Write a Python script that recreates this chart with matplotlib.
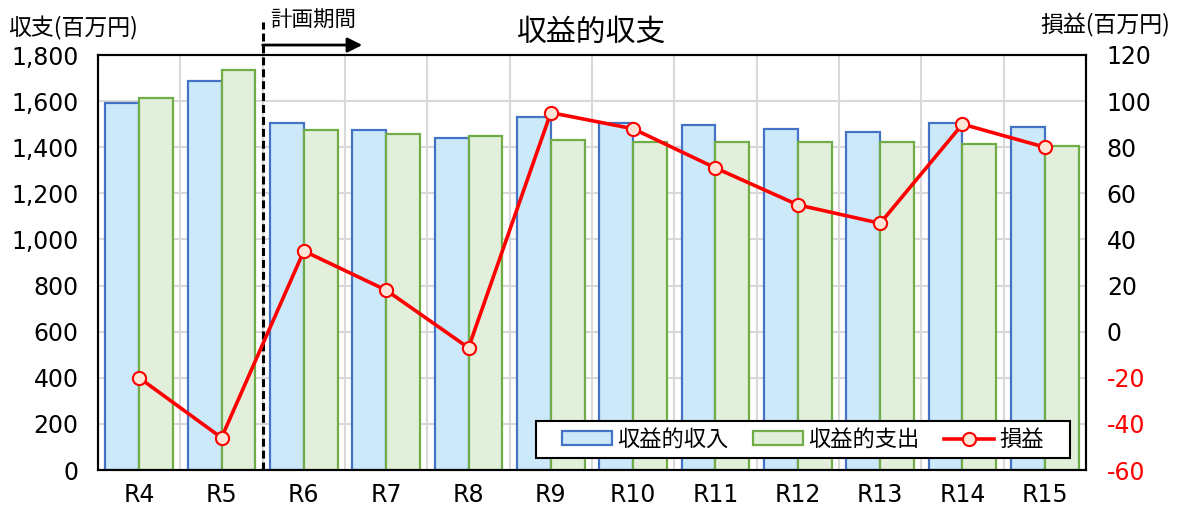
import matplotlib
matplotlib.use("Agg")
import matplotlib.pyplot as plt
import numpy as np
from matplotlib.patches import Rectangle, Patch
from matplotlib.lines import Line2D
import matplotlib.transforms as mtransforms

plt.rcParams['font.family'] = ['DejaVu Sans', 'Noto Sans CJK JP']

# Data (百万円)
years = ["R4", "R5", "R6", "R7", "R8", "R9", "R10", "R11", "R12", "R13", "R14", "R15"]
income = [1590, 1687, 1506, 1473, 1438, 1530, 1506, 1497, 1479, 1464, 1505, 1487]
expense = [1612, 1736, 1473, 1456, 1447, 1430, 1422, 1422, 1422, 1422, 1414, 1405]
profit = [-20, -46, 35, 18, -7, 95, 88, 71, 55, 47, 90, 80]

left_ticks = list(range(0, 1801, 200))
right_ticks = list(range(-60, 121, 20))

W, H = 1178, 508
fig = plt.figure(figsize=(W / 100, H / 100), dpi=100)
ax = fig.add_axes([98 / W, 38 / H, 988 / W, 415 / H])
ax2 = ax.twinx()

x = np.arange(len(years))
bw = 0.41
ax.bar(x - bw / 2, income, width=bw, color="#CCE9FA", edgecolor="#4472C4",
       linewidth=1.6, zorder=2)
ax.bar(x + bw / 2, expense, width=bw, color="#E2EFDA", edgecolor="#70AD47",
       linewidth=1.6, zorder=2.1)

ax.set_xlim(-0.5, len(years) - 0.5)
ax.set_ylim(0, 1800)
ax.set_yticks(left_ticks)
ax.set_yticklabels([f"{v:,}" for v in left_ticks])
ax.set_xticks(x)
ax.set_xticklabels(years)
ax.tick_params(axis='both', length=0, labelsize=17)
ax.tick_params(axis='y', pad=14)
ax.tick_params(axis='x', pad=9)

# grid: horizontal at value ticks, vertical at category boundaries
for v in left_ticks[1:-1]:
    ax.axhline(v, color="#D9D9D9", lw=1.5, zorder=0)
for b in np.arange(0.5, len(years) - 0.5, 1.0):
    ax.axvline(b, color="#D9D9D9", lw=1.5, zorder=0)

for s in ax.spines.values():
    s.set_linewidth(1.5)
    s.set_color("black")
for s in ax2.spines.values():
    s.set_linewidth(1.5)
    s.set_color("black")

# profit line on the secondary axis
ax2.plot(x, profit, color="#FF0000", lw=2.6, marker="o", markersize=9.5,
         markerfacecolor="#FCE4D6", markeredgecolor="#FF0000",
         markeredgewidth=1.5, zorder=3)
ax2.set_ylim(-60, 120)
ax2.set_yticks(right_ticks)
ax2.set_yticklabels([str(v) for v in right_ticks])
ax2.tick_params(axis='y', length=0, labelsize=17, pad=15)
for lbl, v in zip(ax2.get_yticklabels(), right_ticks):
    lbl.set_color("#FF0000" if v < 0 else "black")

# 計画期間 marker: dashed boundary and arrow
trans = mtransforms.blended_transform_factory(ax.transData, ax.transAxes)
ax.plot([1.5, 1.5], [0, 1.08], transform=trans, color="black", lw=2.2,
        ls=(0, (2.6, 1.3)), clip_on=False, zorder=4)
ax.annotate("", xy=(2.71, 1.024), xytext=(1.5, 1.024), xycoords=trans,
            textcoords=trans,
            arrowprops=dict(arrowstyle="-|>", color="black", lw=2.0,
                            mutation_scale=22, shrinkA=0, shrinkB=0))
ax.text(1.59, 1.082, "計画期間", transform=trans, fontsize=15.5,
        ha="left", va="center", family=['Noto Sans CJK JP', 'DejaVu Sans'])

# titles and axis captions
ax.text(0.5, 1.055, "収益的収支", transform=ax.transAxes, fontsize=21.5,
        ha="center", va="center", family=['Noto Sans CJK JP', 'DejaVu Sans'])
fig.text(8 / W, 1 - 28 / H, "収支(百万円)", fontsize=16.5, ha="left", va="center",
         family=['Noto Sans CJK JP', 'DejaVu Sans'])
fig.text(1170 / W, 1 - 25 / H, "損益(百万円)", fontsize=16.5, ha="right", va="center",
         family=['Noto Sans CJK JP', 'DejaVu Sans'])

# legend with its own frame
x0, x1 = (536 - 98) / 988, (1070 - 98) / 988
y0, y1 = (470 - 458) / 415, (470 - 421) / 415
ax2.add_patch(Rectangle((x0, y0), x1 - x0, y1 - y0, transform=ax2.transAxes,
                        facecolor="white", edgecolor="black", lw=1.5, zorder=6))
handles = [
    Patch(facecolor="#CCE9FA", edgecolor="#4472C4", linewidth=1.6),
    Patch(facecolor="#E2EFDA", edgecolor="#70AD47", linewidth=1.6),
    Line2D([], [], color="#FF0000", lw=2.6, marker="o", markersize=9.5,
           markerfacecolor="#FCE4D6", markeredgecolor="#FF0000",
           markeredgewidth=1.5),
]
leg = ax2.legend(handles, ["収益的収入", "収益的支出", "損益"], ncol=3,
                 loc="center", bbox_to_anchor=((x0 + x1) / 2, (y0 + y1) / 2),
                 frameon=False, handlelength=2.25, handleheight=0.6,
                 handletextpad=0.25, columnspacing=1.1, borderpad=0,
                 prop={'family': ['Noto Sans CJK JP', 'DejaVu Sans'], 'size': 16})
leg.set_zorder(7)

fig.savefig("out.png", dpi=100)
